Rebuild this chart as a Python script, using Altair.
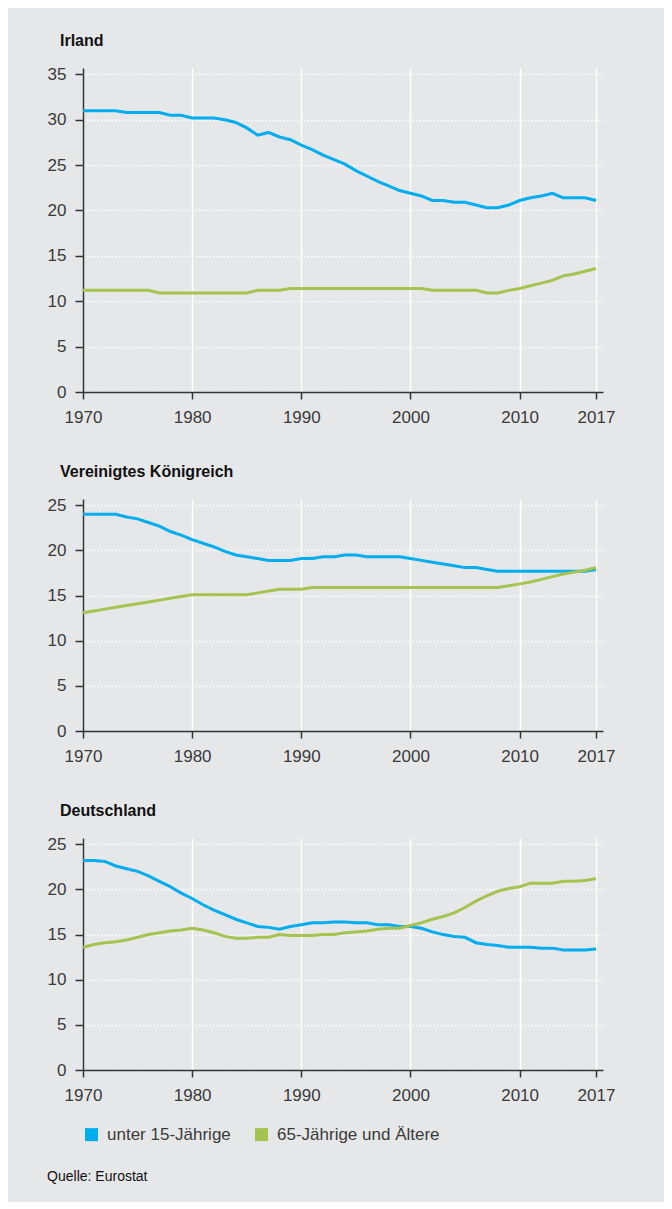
import altair as alt
import pandas as pd

years = list(range(1970, 2018))
x_ticks = [1970, 1980, 1990, 2000, 2010, 2017]

series_names = ["unter 15-Jährige", "65-Jährige und Ältere"]
series_colors = ["#00aeef", "#a5c44f"]

ie_u15 = [31.0, 31.0, 31.0, 31.0, 30.8, 30.8, 30.8, 30.8, 30.5, 30.5,
          30.2, 30.2, 30.2, 30.0, 29.7, 29.1, 28.3, 28.6, 28.1, 27.8,
          27.2, 26.7, 26.1, 25.6, 25.1, 24.4, 23.8, 23.2, 22.7, 22.2,
          21.9, 21.6, 21.1, 21.1, 20.9, 20.9, 20.6, 20.3, 20.3, 20.6,
          21.1, 21.4, 21.6, 21.9, 21.4, 21.4, 21.4, 21.1]
ie_65 = [11.2, 11.2, 11.2, 11.2, 11.2, 11.2, 11.2, 10.9, 10.9, 10.9,
         10.9, 10.9, 10.9, 10.9, 10.9, 10.9, 11.2, 11.2, 11.2, 11.4,
         11.4, 11.4, 11.4, 11.4, 11.4, 11.4, 11.4, 11.4, 11.4, 11.4,
         11.4, 11.4, 11.2, 11.2, 11.2, 11.2, 11.2, 10.9, 10.9, 11.2,
         11.4, 11.7, 12.0, 12.3, 12.8, 13.0, 13.3, 13.6]

uk_u15 = [24.0, 24.0, 24.0, 24.0, 23.7, 23.5, 23.1, 22.7, 22.1, 21.7,
          21.2, 20.8, 20.4, 19.9, 19.5, 19.3, 19.1, 18.9, 18.9, 18.9,
          19.1, 19.1, 19.3, 19.3, 19.5, 19.5, 19.3, 19.3, 19.3, 19.3,
          19.1, 18.9, 18.7, 18.5, 18.3, 18.1, 18.1, 17.9, 17.7, 17.7,
          17.7, 17.7, 17.7, 17.7, 17.7, 17.7, 17.7, 17.9]
uk_65 = [13.1, 13.3, 13.5, 13.7, 13.9, 14.1, 14.3, 14.5, 14.7, 14.9,
         15.1, 15.1, 15.1, 15.1, 15.1, 15.1, 15.3, 15.5, 15.7, 15.7,
         15.7, 15.9, 15.9, 15.9, 15.9, 15.9, 15.9, 15.9, 15.9, 15.9,
         15.9, 15.9, 15.9, 15.9, 15.9, 15.9, 15.9, 15.9, 15.9, 16.1,
         16.3, 16.5, 16.8, 17.1, 17.4, 17.6, 17.8, 18.1]

de_u15 = [23.2, 23.2, 23.1, 22.6, 22.3, 22.0, 21.5, 20.9, 20.3, 19.6,
          19.0, 18.3, 17.7, 17.2, 16.7, 16.3, 15.9, 15.8, 15.6, 15.9,
          16.1, 16.3, 16.3, 16.4, 16.4, 16.3, 16.3, 16.1, 16.1, 15.9,
          15.9, 15.7, 15.3, 15.0, 14.8, 14.7, 14.1, 13.9, 13.8, 13.6,
          13.6, 13.6, 13.5, 13.5, 13.3, 13.3, 13.3, 13.4]
de_65 = [13.6, 13.9, 14.1, 14.2, 14.4, 14.7, 15.0, 15.2, 15.4, 15.5,
         15.7, 15.5, 15.2, 14.8, 14.6, 14.6, 14.7, 14.7, 15.0, 14.9,
         14.9, 14.9, 15.0, 15.0, 15.2, 15.3, 15.4, 15.6, 15.7, 15.7,
         16.0, 16.3, 16.7, 17.0, 17.4, 18.0, 18.7, 19.3, 19.8, 20.1,
         20.3, 20.7, 20.7, 20.7, 20.9, 20.9, 21.0, 21.2]

FONT = "Liberation Sans"
TXT = "#3a3a3a"


def panel(title, u15, o65, y_ticks, y_top, h, show_legend):
    df = pd.DataFrame({
        "Jahr": years + years,
        "Wert": u15 + o65,
        "Gruppe": [series_names[0]] * len(years) + [series_names[1]] * len(years),
    })
    if show_legend:
        leg = alt.Legend(title=None, orient="bottom", direction="horizontal",
                         symbolType="square", symbolSize=42.25, symbolStrokeWidth=6.5,
                         labelFont=FONT, labelFontSize=17, labelColor=TXT,
                         labelLimit=400, labelOffset=7, columnPadding=14,
                         offset=22.5, padding=0)
    else:
        leg = None
    return alt.Chart(
        df,
        title=alt.TitleParams(title, anchor="start", frame="group", dx=-23,
                              fontSize=16, fontWeight="bold", font=FONT,
                              color="#111111", offset=16),
    ).mark_line(strokeWidth=3).encode(
        x=alt.X("Jahr:Q",
                scale=alt.Scale(domain=[1970, 2017.64], nice=False, zero=False),
                axis=alt.Axis(values=x_ticks, format="d", title=None,
                              tickSize=7, labelPadding=10, labelFlush=False,
                              grid=True, gridColor="white", gridWidth=1.5)),
        y=alt.Y("Wert:Q",
                scale=alt.Scale(domain=[0, y_top], nice=False),
                axis=alt.Axis(values=y_ticks, title=None, tickSize=8,
                              labelPadding=9, labelFlush=False,
                              grid=True, gridColor="white", gridWidth=1.5,
                              gridDash=[1.5, 2])),
        color=alt.Color("Gruppe:N",
                        scale=alt.Scale(domain=series_names, range=series_colors),
                        sort=series_names, legend=leg),
    ).properties(width=520, height=h)


p1 = panel("Irland", ie_u15, ie_65, [0, 5, 10, 15, 20, 25, 30, 35], 35.7, 324, False)
p2 = panel("Vereinigtes Königreich", uk_u15, uk_65, [0, 5, 10, 15, 20, 25], 25.7, 232, False)
p3 = panel("Deutschland", de_u15, de_65, [0, 5, 10, 15, 20, 25], 25.7, 232, True)

chart = alt.vconcat(
    p1, p2, p3, spacing=39,
    title=alt.TitleParams("Quelle: Eurostat", orient="bottom", anchor="start",
                          fontSize=14, fontWeight="normal", font=FONT,
                          color="#111111", offset=19),
).resolve_scale(color="independent").resolve_legend(color="independent").properties(
    padding={"left": 39, "top": 25, "right": 49, "bottom": 18},
    background="#e6e7e9",
).configure_view(strokeWidth=0).configure_axis(
    domainColor="#333333", domainWidth=1.5, tickColor="#333333", tickWidth=1.5,
    labelFont=FONT, labelFontSize=17, labelColor=TXT,
)

chart.save("out.html", embed_options={"renderer": "svg", "actions": False})
